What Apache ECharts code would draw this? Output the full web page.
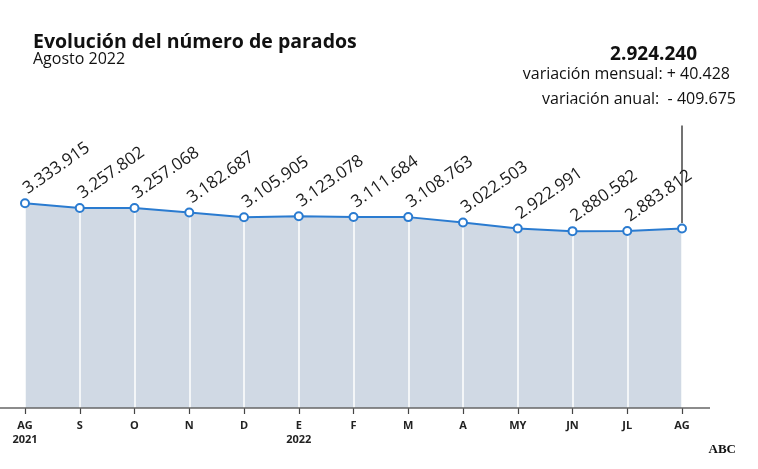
<!DOCTYPE html>
<html><head><meta charset="utf-8">
<script src="https://cdn.jsdelivr.net/npm/echarts@6/dist/echarts.min.js"></script>
<style>html,body{margin:0;padding:0;background:#fff}#c{width:758px;height:469px}</style>
</head><body><div id="c"></div>
<script>
var categories = ['AG\n2021','S','O','N','D','E\n2022','F','M','A','MY','JN','JL','AG'];
var values = [3333915,3257802,3257068,3182687,3105905,3123078,3111684,3108763,3022503,2922991,2880582,2883812,2924240];
var labelTexts = ['3.333.915','3.257.802','3.257.068','3.182.687','3.105.905','3.123.078','3.111.684','3.108.763','3.022.503','2.922.991','2.880.582','2.883.812',''];
var titleText = 'Evolución del número de parados';
var subtitleText = 'Agosto 2022';
var totalText = '2.924.240';
var mensualText = 'variación mensual: + 40.428';
var anualText = 'variación anual:  - 409.675';
var sourceText = 'ABC';

var chart = echarts.init(document.getElementById('c'), null, {renderer:'canvas'});
var font = '"Open Sans", "Noto Sans", sans-serif';
chart.setOption({
  animation:false,
  backgroundColor:'#fff',
  grid:{left:25,right:76,top:101,bottom:61},
  xAxis:{type:'category',data:categories,boundaryGap:false,z:3,
    axisLine:{show:false},
    axisTick:{show:true,alignWithLabel:true,length:6,lineStyle:{color:'#444',width:1.2}},
    axisLabel:{color:'#222',fontFamily:font,fontWeight:'bold',fontSize:11,lineHeight:14,margin:11,interval:0},
    splitLine:{show:true,lineStyle:{color:'#fff',width:1.5}}},
  yAxis:{type:'value',min:0,max:5000000,show:false,splitLine:{show:false}},
  graphic:[
    {type:'text',left:33,top:32,style:{text:titleText,font:'bold 19.5px '+font,fill:'#111'}},
    {type:'text',left:33,top:51,style:{text:subtitleText,font:'16px '+font,fill:'#111'}},
    {type:'text',right:61,top:45,style:{text:totalText,font:'bold 19px '+font,fill:'#111'}},
    {type:'text',right:28,top:66,style:{text:mensualText,font:'16px '+font,fill:'#111'}},
    {type:'text',right:22,top:91,style:{text:anualText,font:'16px '+font,fill:'#111'}},
    {type:'text',right:22,top:443,style:{text:sourceText,font:'bold 13px "Liberation Serif", serif',fill:'#111'}},
    {type:'line',shape:{x1:0,y1:408,x2:710,y2:408},style:{stroke:'#666',lineWidth:1.5},z:10}
  ],
  series:[
    {type:'line',data:values,z:1,symbol:'none',lineStyle:{width:0},areaStyle:{color:'#d0d9e4',opacity:1},silent:true},
    {type:'line',data:values,z:5,symbol:'circle',symbolSize:8,
      itemStyle:{color:'#fff',borderColor:'#2a7bd0',borderWidth:2},
      lineStyle:{color:'#2a7bd0',width:2},
      label:{show:true,position:'top',distance:8,rotate:35,align:'left',verticalAlign:'middle',
        fontFamily:font,fontSize:17,color:'#1a1a1a',
        formatter:function(p){return labelTexts[p.dataIndex];}},
      markLine:{silent:true,symbol:'none',label:{show:false},lineStyle:{color:'#444',width:1.5,type:'solid'},
        data:[[{coord:[12,values[12]+90000]},{coord:[12,4600000]}]]}
    }
  ]
});
</script></body></html>
